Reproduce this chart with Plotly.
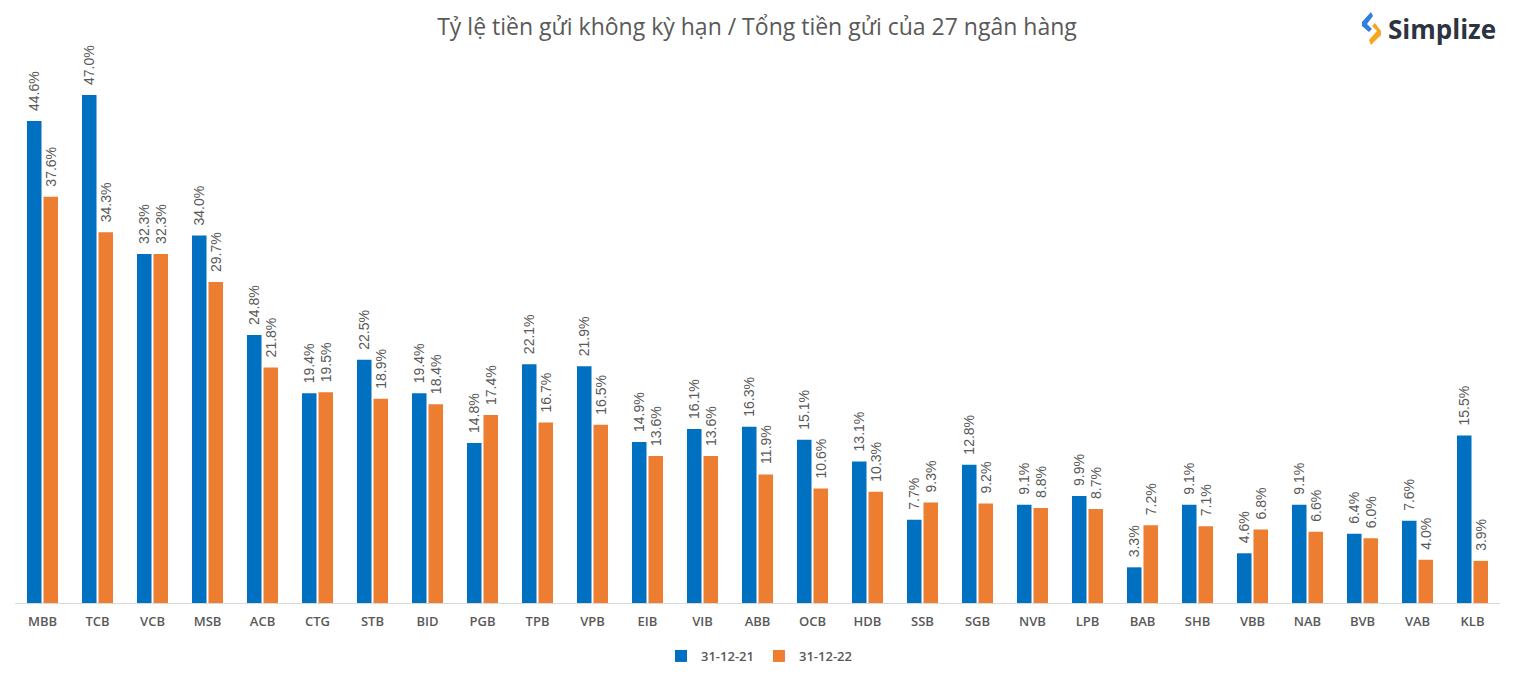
import plotly.graph_objects as go

banks = ["MBB","TCB","VCB","MSB","ACB","CTG","STB","BID","PGB","TPB","VPB","EIB","VIB","ABB",
         "OCB","HDB","SSB","SGB","NVB","LPB","BAB","SHB","VBB","NAB","BVB","VAB","KLB"]
y2021 = [44.6,47.0,32.3,34.0,24.8,19.4,22.5,19.4,14.8,22.1,21.9,14.9,16.1,16.3,
         15.1,13.1,7.7,12.8,9.1,9.9,3.3,9.1,4.6,9.1,6.4,7.6,15.5]
y2022 = [37.6,34.3,32.3,29.7,21.8,19.5,18.9,18.4,17.4,16.7,16.5,13.6,13.6,11.9,
         10.6,10.3,9.3,9.2,8.8,8.7,7.2,7.1,6.8,6.6,6.0,4.0,3.9]
series_names = ["31-12-21", "31-12-22"]
colors = ["#0070C0", "#ED7D31"]

W, H = 1517, 677
L, R, T, B = 7, 25, 33, 82
PW, PH = W - L - R, H - T - B

def px(x, y):
    # page pixel (with 8px body offset) -> paper coords
    return ((x - 8 - L) / PW, (H - B - (y - 8)) / PH)

fig = go.Figure()
for name, vals, c in zip(series_names, [y2021, y2022], colors):
    fig.add_trace(go.Bar(x=banks, y=vals, name=name, marker_color=c, marker_line_width=0))

# value labels (rotated), offset to each bar of the group
for vals, shift in zip([y2021, y2022], [-8.5, 8.5]):
    for b, v in zip(banks, vals):
        fig.add_annotation(x=b, y=v, xref="x", yref="y", text=f"{v:.1f}%",
                           textangle=-90, showarrow=False, xanchor="center", yanchor="bottom",
                           xshift=shift, yshift=8,
                           font=dict(family="Liberation Sans", size=14, color="#595959"))

fig.update_layout(
    width=W, height=H,
    margin=dict(l=L, r=R, t=T, b=B, autoexpand=False),
    paper_bgcolor="white", plot_bgcolor="white",
    barmode="group", bargap=0.40, bargroupgap=0.12,
    title=dict(text="Tỷ lệ tiền gửi không kỳ hạn / Tổng tiền gửi của 27 ngân hàng",
               x=(757 - 8) / W, xanchor="center", y=1 - (27 - 8) / H, yanchor="middle",
               font=dict(family="Open Sans", size=23, color="#595959")),
    legend=dict(orientation="h", x=(759 - 8 - L) / PW, xanchor="center",
                y=-53 / PH, yanchor="middle",
                font=dict(family="Open Sans", size=13, color="#595959", weight=600),
                itemwidth=30, traceorder="normal"),
    showlegend=True,
)
fig.update_xaxes(showline=True, linecolor="#D9D9D9", linewidth=1, ticks="",
                 ticklabelstandoff=6,
                 tickfont=dict(family="Open Sans", size=13, color="#595959", weight=600),
                 showgrid=False)
fig.update_yaxes(range=[0, 52], visible=False, showgrid=False)

# logo
lx, ly = px(1498, 29)
fig.add_annotation(xref="paper", yref="paper", x=lx, y=ly, xanchor="right", yanchor="middle",
                   text="<b>Simplize</b>", showarrow=False,
                   font=dict(family="Open Sans", size=26, color="#2B3440"))

def poly(points):
    pts = [px(x, y) for x, y in points]
    return "M " + " L ".join(f"{a:.5f} {b:.5f}" for a, b in pts) + " Z"

fig.add_shape(type="path", xref="paper", yref="paper",
              path=poly([(1371, 12), (1362, 22), (1362, 26), (1369, 32), (1372, 29), (1367, 24), (1373, 16)]),
              fillcolor="#2F7FE0", line_width=0)
fig.add_shape(type="path", xref="paper", yref="paper",
              path=poly([(1372, 26), (1377, 31), (1369, 40), (1371, 45), (1381, 35), (1381, 31), (1375, 23)]),
              fillcolor="#F5A623", line_width=0)

fig.write_html("out.html")
